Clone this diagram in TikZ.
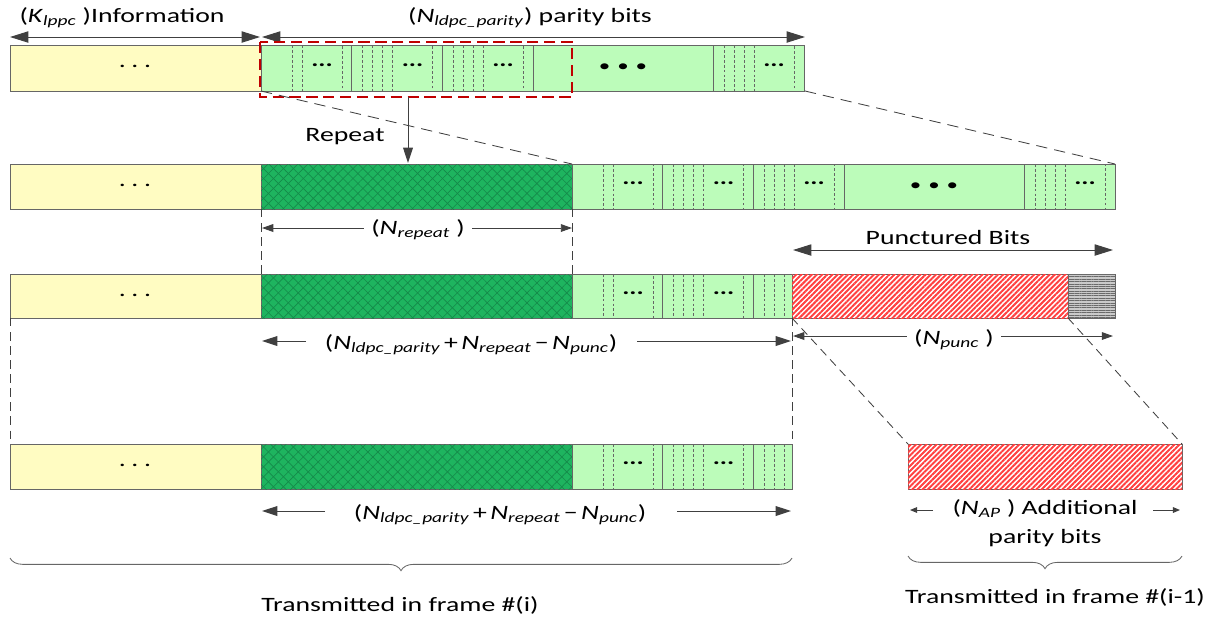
\documentclass[tikz,border=0pt]{standalone}
\usepackage{fontspec}
\setmainfont{Carlito}[FakeStretch=1.36]
\usetikzlibrary{arrows.meta,patterns.meta,decorations.pathreplacing,positioning,calc}
\definecolor{ink}{HTML}{404040}
\definecolor{edge}{HTML}{666666}
\definecolor{info}{HTML}{FFFCC2}
\definecolor{par}{HTML}{BCFCBA}
\definecolor{rep}{HTML}{1EB45F}
\definecolor{repl}{HTML}{15894A}
\definecolor{pun}{HTML}{FF4040}
\definecolor{frm}{HTML}{C00000}
\definecolor{tailf}{HTML}{CACACA}
\definecolor{taill}{HTML}{6A6A6A}
\newcommand{\nsub}[2]{\textit{#1}\textsubscript{\textit{#2}}}
\tikzset{
  lbl/.style={font=\fontsize{14.5}{17}\selectfont,text=black,inner sep=1pt},
  infobox/.style={draw=edge,fill=info},
  parbox/.style={draw=edge,fill=par},
  repbox/.style={draw=edge,fill=rep,
    postaction={pattern color=repl,pattern={Lines[angle=45,distance=5pt,line width=0.45pt]}},
    postaction={pattern color=repl,pattern={Lines[angle=-45,distance=5pt,line width=0.45pt]}}},
  punbox/.style={draw=edge,fill=white,
    postaction={pattern color=pun,pattern={Lines[angle=45,distance=2.6pt,line width=1.4pt]}}},
  tailbox/.style={draw=edge,fill=tailf,
    postaction={pattern color=taill,pattern={Lines[angle=0,distance=1.7pt,line width=0.6pt]}}},
  segline/.style={edge,line width=0.6pt},
  subline/.style={edge,line width=0.5pt,dash pattern=on 2pt off 1.5pt},
  dots3/.style={font=\fontsize{14}{14}\selectfont\bfseries,inner sep=0pt},
  bigdots/.style={font=\fontsize{12}{12}\selectfont,inner sep=0pt},
  guide/.style={ink,line width=0.6pt,dash pattern=on 6pt off 4pt},
  longguide/.style={ink,line width=0.6pt,dash pattern=on 8pt off 5pt},
  redframe/.style={frm,line width=1.5pt,dash pattern=on 8pt off 4pt},
  bigarrow/.style={ink,line width=0.7pt,{Triangle[length=13pt,width=8pt]}-{Triangle[length=13pt,width=8pt]}},
  midarrow/.style={ink,line width=0.7pt,-{Triangle[length=11pt,width=7pt]}},
  dimarrow/.style={ink,line width=0.7pt,{Triangle[length=8pt,width=5.5pt]}-{Triangle[length=8pt,width=5.5pt]}},
  smallarrow/.style={ink,line width=0.7pt,-{Triangle[length=5pt,width=4pt]}},
  brace/.style={ink!80,line width=0.6pt,decorate,decoration={brace,amplitude=9pt,mirror}},
}
% parity part: offsets in px from its left end, #1 top, #2 bottom
\newcommand{\paritystrip}[2]{%
  \foreach \x in {90.5,181,272,452} \draw[segline] (\x,#1) -- (\x,#2);
  \foreach \x/\k in {0/1,90.5/3,181/3,452/3}{
    \foreach \d in {1,...,\k} \draw[subline] ({\x+41-10*\d},#1) -- ({\x+41-10*\d},#2);
    \draw[subline] ({\x+41},#1) rectangle ({\x+81},#2);
    \node[dots3] at ({\x+61},{(#1+#2)/2-3}) {...};
  }
  \node[bigdots] at (362,{(#1+#2)/2}) {\textbullet\hspace{5pt}\textbullet\hspace{5pt}\textbullet};
}

\begin{document}
\begin{tikzpicture}[x=0.025cm,y=-0.025cm]
  \useasboundingbox (0,0) rectangle (1220,621);
  % ---------- row 1: LDPC codeword ----------
  \draw[infobox] (10,45) rectangle (261,91);
  \draw[parbox] (261,45) rectangle (804,91);
  \begin{scope}[shift={(261,0)}]
    \paritystrip{45}{91}
  \end{scope}
  \node[lbl] (infoD1) at (135,66) {.\hspace{4pt}.\hspace{4pt}.};
  \coordinate (infoL) at (10,37);
  \coordinate (infoR) at (260,37);
  \coordinate (parL) at (262,37);
  \coordinate (parR) at (805,37);
  \draw[bigarrow] (infoL) -- (infoR);
  \draw[bigarrow] (parL) -- (parR);
  \node[lbl] (infoT) at (122,18) {(\nsub{K}{lppc} )Information};
  \node[lbl] (parT) at (530,18) {(\nsub{N}{ldpc\_parity}) parity bits};
  \draw[redframe] (260,42) rectangle (572,97);
  % ---------- row 2: repeated bits ----------
  \draw[infobox] (10,164) rectangle (261,209);
  \draw[repbox] (261,164) rectangle (572,209);
  \draw[parbox] (572,164) rectangle (1115,209);
  \begin{scope}[shift={(572,0)}]
    \paritystrip{164}{209}
  \end{scope}
  \node[lbl] (infoD2) at (135,185) {.\hspace{4pt}.\hspace{4pt}.};
  \coordinate (repS) at (408,97);
  \coordinate (repE) at (408,163);
  \draw[midarrow] (repS) -- (repE);
  \node[lbl] (repT) at (345,137) {Repeat};
  \coordinate (r1a) at (261,91);
  \coordinate (r1b) at (805,91);
  \coordinate (r2a) at (572,164);
  \coordinate (r2b) at (1115,164);
  \draw[longguide] (r1a) -- (r2a);
  \draw[longguide] (r1b) -- (r2b);
  % ---------- row 3: punctured ----------
  \draw[infobox] (10,274) rectangle (261,318);
  \draw[repbox] (261,274) rectangle (572,318);
  \draw[parbox] (572,274) rectangle (792,318);
  \begin{scope}
    \clip (572,274) rectangle (792,318);
    \begin{scope}[shift={(572,0)}]
      \paritystrip{274}{318}
    \end{scope}
  \end{scope}
  \draw[punbox] (792,274) rectangle (1068,318);
  \draw[tailbox] (1068,274) rectangle (1115,318);
  \node[lbl] (infoD3) at (135,295) {.\hspace{4pt}.\hspace{4pt}.};
  \draw[guide] (261,209) -- (261,274);
  \draw[guide] (572,209) -- (572,274);
  \coordinate (nrA) at (262,228);
  \coordinate (nrB) at (572,228);
  \draw[dimarrow] (nrA) -- (nrB);
  \node[lbl,fill=white,inner xsep=5pt] (nrepT) at (418,230) {(\nsub{N}{repeat} )};
  \coordinate (pbA) at (793,250);
  \coordinate (pbB) at (1113,250);
  \draw[bigarrow] (pbA) -- (pbB);
  \node[lbl] (puncT) at (948,237) {Punctured Bits};
  \node[lbl] (sumA) at (471,345) {(\nsub{N}{ldpc\_parity}\,+\,\nsub{N}{repeat}\,−\,\nsub{N}{punc})};
  \coordinate (sA0) at (262,341);
  \coordinate (sA1) at (306,341);
  \coordinate (sA2) at (637,341);
  \coordinate (sA3) at (791,341);
  \draw[midarrow] (sA1) -- (sA0);
  \draw[midarrow] (sA2) -- (sA3);
  \coordinate (npA) at (793,336);
  \coordinate (npB) at (1113,336);
  \draw[dimarrow] (npA) -- (npB);
  \node[lbl,fill=white,inner xsep=5pt] (npuncT) at (954,340) {(\nsub{N}{punc} )};
  % ---------- row 4: frame i and frame i-1 ----------
  \draw[infobox] (10,444) rectangle (261,489);
  \draw[repbox] (261,444) rectangle (572,489);
  \draw[parbox] (572,444) rectangle (792,489);
  \begin{scope}
    \clip (572,444) rectangle (792,489);
    \begin{scope}[shift={(572,0)}]
      \paritystrip{444}{489}
    \end{scope}
  \end{scope}
  \node[lbl] (infoD4) at (135,465) {.\hspace{4pt}.\hspace{4pt}.};
  \draw[punbox] (908,444) rectangle (1182,489);
  \draw[guide] (10,318) -- (10,444);
  \draw[guide] (792,318) -- (792,444);
  \coordinate (p3a) at (792,318);
  \coordinate (p3b) at (1068,318);
  \coordinate (p4a) at (908,444);
  \coordinate (p4b) at (1182,444);
  \draw[guide] (p3a) -- (p4a);
  \draw[guide] (p3b) -- (p4b);
  \node[lbl] (sumB) at (500,515) {(\nsub{N}{ldpc\_parity}\,+\,\nsub{N}{repeat}\,−\,\nsub{N}{punc})};
  \coordinate (sB0) at (262,511);
  \coordinate (sB1) at (325,511);
  \coordinate (sB2) at (677,511);
  \coordinate (sB3) at (791,511);
  \draw[midarrow] (sB1) -- (sB0);
  \draw[midarrow] (sB2) -- (sB3);
  \node[lbl,align=center,font=\fontsize{14.5}{21}\selectfont] (napT) at (1045,523) {(\nsub{N}{AP} ) Additional\\parity bits};
  \coordinate (na0) at (910,510);
  \coordinate (na1) at (933,510);
  \coordinate (na2) at (1153,510);
  \coordinate (na3) at (1180,510);
  \draw[smallarrow] (na1) -- (na0);
  \draw[smallarrow] (na2) -- (na3);
  \draw[brace] (10,558) -- (792,558);
  \node[lbl] (frmI) at (400,605) {Transmitted in frame \#(i)};
  \draw[brace] (908,556) -- (1182,556);
  \node[lbl] (frmJ) at (1055,597) {Transmitted in frame \#(i-1)};
\end{tikzpicture}
\end{document}
